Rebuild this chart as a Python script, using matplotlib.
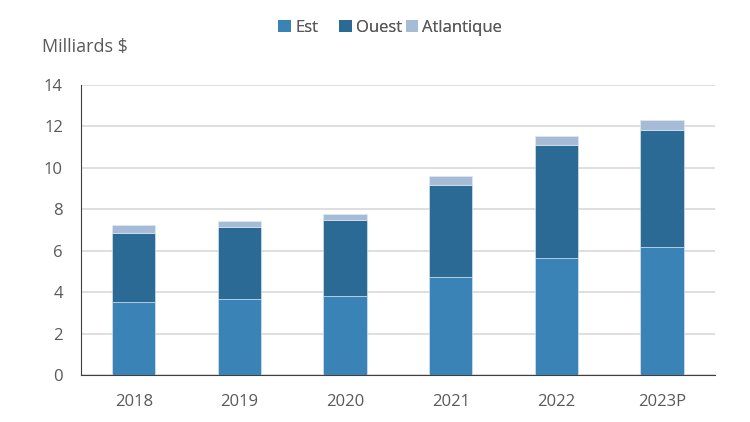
import matplotlib
matplotlib.use("Agg")
import matplotlib.pyplot as plt
from matplotlib.patches import Patch
import numpy as np

categories = ["2018", "2019", "2020", "2021", "2022", "2023P"]
est = [3.54, 3.67, 3.83, 4.73, 5.66, 6.19]
ouest_top = [6.87, 7.13, 7.47, 9.17, 11.09, 11.84]
total = [7.24, 7.44, 7.77, 9.59, 11.54, 12.31]
ouest = [o - e for o, e in zip(ouest_top, est)]
atl = [t - o for t, o in zip(total, ouest_top)]
series_names = ["Est", "Ouest", "Atlantique"]
colors = ["#3A83B6", "#2C6A96", "#A6BCD6"]

plt.rcParams['font.family'] = ['Open Sans', 'DejaVu Sans']

fig = plt.figure(figsize=(7.5, 4.22), dpi=100)
ax = fig.add_axes([0.108, 0.1114, 0.845, 0.6872])

x = np.arange(len(categories))
w = 0.41
ec = "#E3ECF4"
ax.bar(x, est, w, color=colors[0], edgecolor=ec, linewidth=0.4, zorder=3)
ax.bar(x, ouest, w, bottom=est, color=colors[1], edgecolor=ec, linewidth=0.4, zorder=3)
ax.bar(x, atl, w, bottom=ouest_top, color=colors[2], edgecolor=ec, linewidth=0.4, zorder=3)

ax.set_xlim(-0.5, len(categories) - 0.5)
ax.set_ylim(0, 14)
ax.set_yticks(range(0, 15, 2))
ax.set_xticks(x)
ax.set_xticklabels(categories)
ax.yaxis.grid(True, color="#D9D9D9", linewidth=1.2, zorder=0)
ax.set_axisbelow(True)
for s in ["top", "right"]:
    ax.spines[s].set_visible(False)
ax.spines["left"].set_color("#3F3F3F")
ax.spines["bottom"].set_color("#3F3F3F")
ax.tick_params(axis="both", length=0, labelsize=12, labelcolor="#595959")
ax.tick_params(axis="x", pad=14)
ax.tick_params(axis="y", pad=13)

fig.text(0.056, 0.888, "Milliards $", fontsize=13, color="#595959", va="center")

# legend items placed individually (uneven spacing as in reference)
leg_x = [0.371, 0.452, 0.541]
for name, c, lx in zip(series_names, colors, leg_x):
    lg = fig.legend([Patch(facecolor=c, edgecolor="none")], [name], loc="center left",
                    bbox_to_anchor=(lx, 0.934), frameon=False, fontsize=12,
                    labelcolor="#595959", handlelength=0.75, handleheight=0.75,
                    handletextpad=0.25, borderpad=0, borderaxespad=0)
    fig.add_artist(lg)

fig.savefig("out.png", dpi=100)
